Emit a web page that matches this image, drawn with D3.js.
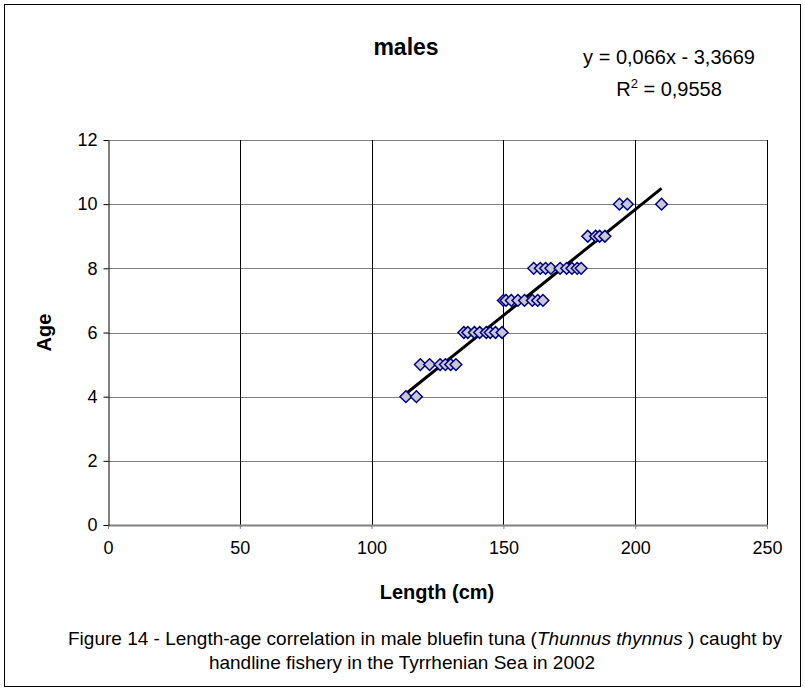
<!DOCTYPE html>
<head>
  <meta charset="utf-8">
  <style>
    body { margin: 0; background: #fff; }
    svg text { font-family: "Liberation Sans", Arial, sans-serif; fill: #000; }
    svg .tick text { font-size: 18px; }
  </style>
</head>
<body>
<script src="https://d3js.org/d3.v7.min.js"></script>
<script>
  // fish measured, one array per age class (length in cm)
  var ages = [4, 5, 6, 7, 8, 9, 10];
  var len4  = [113, 117];
  var len5  = [118.5, 122, 126, 128, 130, 132];
  var len6  = [135, 136.5, 139, 141, 143.5, 145, 147, 149.5];
  var len7  = [150, 151, 153, 155.5, 158, 161, 163, 165];
  var len8  = [161.5, 164, 166, 168, 171.5, 174, 176, 178, 179.5];
  var len9  = [182, 185, 186.5, 188.5];
  var len10 = [194, 197, 210];
  var lengths = [len4, len5, len6, len7, len8, len9, len10];

  var xTicks = [0, 50, 100, 150, 200, 250];
  var yTicks = [0, 2, 4, 6, 8, 10, 12];
  var slope = 0.066, intercept = -3.3669;

  var W = 805, H = 691;
  var plot = { left: 108, right: 767, top: 140, bottom: 525 };

  var svg = d3.select("body").append("svg")
      .attr("width", W)
      .attr("height", H);

  // outer frame
  svg.append("rect")
      .attr("x", 4.5).attr("y", 4.5)
      .attr("width", 796).attr("height", 682)
      .style("fill", "none")
      .style("stroke", "#000")
      .style("stroke-width", "1px");

  var xScale = d3.scaleLinear().domain([0, 250]).range([plot.left, plot.right]);
  var yScale = d3.scaleLinear().domain([0, 12]).range([plot.bottom, plot.top]);

  // horizontal grid (grey)
  svg.append("g").selectAll("line").data(yTicks.filter(function (d) { return d > 0; }))
    .enter().append("line")
      .attr("x1", plot.left).attr("x2", plot.right)
      .attr("y1", function (d) { return Math.round(yScale(d)) + 0.5; })
      .attr("y2", function (d) { return Math.round(yScale(d)) + 0.5; })
      .style("stroke", "#808080")
      .style("stroke-width", "1px");

  // vertical grid (black)
  svg.append("g").selectAll("line").data(xTicks.filter(function (d) { return d > 0; }))
    .enter().append("line")
      .attr("x1", function (d) { return Math.round(xScale(d)) + 0.5; })
      .attr("x2", function (d) { return Math.round(xScale(d)) + 0.5; })
      .attr("y1", plot.top).attr("y2", plot.bottom)
      .style("stroke", "#000")
      .style("stroke-width", "1px");

  // x axis
  var xAxis = d3.axisBottom(xScale).tickValues(xTicks).tickSizeInner(4).tickSizeOuter(0).tickPadding(12);
  var gx = svg.append("g")
      .attr("transform", "translate(0," + plot.bottom + ")")
      .call(xAxis);
  gx.select(".domain").style("stroke", "#808080").style("stroke-width", "2px");
  gx.selectAll(".tick line").style("stroke", "#808080");

  // y axis
  var yAxis = d3.axisLeft(yScale).tickValues(yTicks).tickSizeInner(5).tickSizeOuter(0).tickPadding(6);
  var gy = svg.append("g")
      .attr("transform", "translate(" + (plot.left + 0.5) + ",0)")
      .call(yAxis);
  gy.select(".domain").style("stroke", "#000");
  gy.selectAll(".tick line").style("stroke", "#000");

  // trend line over the data range
  var allLen = d3.merge(lengths);
  var xr = d3.extent(allLen);
  svg.append("line")
      .attr("x1", xScale(xr[0])).attr("y1", yScale(slope * xr[0] + intercept))
      .attr("x2", xScale(xr[1])).attr("y2", yScale(slope * xr[1] + intercept))
      .style("stroke", "#000")
      .style("stroke-width", "3px");

  // points
  var pts = [];
  lengths.forEach(function (arr, i) {
    arr.forEach(function (l) { pts.push({ x: l, y: ages[i] }); });
  });
  var diamond = d3.symbol().type(d3.symbolDiamond2).size(88);
  svg.append("g").selectAll("path").data(pts)
    .enter().append("path")
      .attr("d", diamond)
      .attr("transform", function (d) { return "translate(" + xScale(d.x) + "," + yScale(d.y) + ")"; })
      .style("fill", "#c8c8d4")
      .style("stroke", "#000080")
      .style("stroke-width", "1.5px");

  // texts
  svg.append("text")
      .attr("x", 406).attr("y", 55)
      .style("text-anchor", "middle")
      .style("font-size", "23px")
      .style("font-weight", "bold")
      .text("males");

  svg.append("text")
      .attr("x", 669).attr("y", 64)
      .style("text-anchor", "middle")
      .style("font-size", "20px")
      .text("y = 0,066x - 3,3669");

  var r2 = svg.append("text")
      .attr("x", 669).attr("y", 96)
      .style("text-anchor", "middle")
      .style("font-size", "20px");
  r2.append("tspan").text("R");
  r2.append("tspan").attr("dy", -8).style("font-size", "13px").text("2");
  r2.append("tspan").attr("dy", 8).text(" = 0,9558");

  svg.append("text")
      .attr("transform", "translate(51," + ((plot.top + plot.bottom) / 2) + ") rotate(-90)")
      .style("text-anchor", "middle")
      .style("font-size", "20px")
      .style("font-weight", "bold")
      .text("Age");

  svg.append("text")
      .attr("x", 437).attr("y", 599)
      .style("text-anchor", "middle")
      .style("font-size", "20px")
      .style("font-weight", "bold")
      .text("Length (cm)");

  var cap = svg.append("text")
      .attr("x", 425).attr("y", 645)
      .style("text-anchor", "middle")
      .style("font-size", "19px");
  cap.append("tspan").text("Figure 14 - Length-age correlation in male bluefin tuna (");
  cap.append("tspan").style("font-style", "italic").text("Thunnus thynnus ");
  cap.append("tspan").text(") caught by");

  svg.append("text")
      .attr("x", 402).attr("y", 669)
      .style("text-anchor", "middle")
      .style("font-size", "19px")
      .text("handline fishery in the Tyrrhenian Sea in 2002");
</script>
</body>
</html>
